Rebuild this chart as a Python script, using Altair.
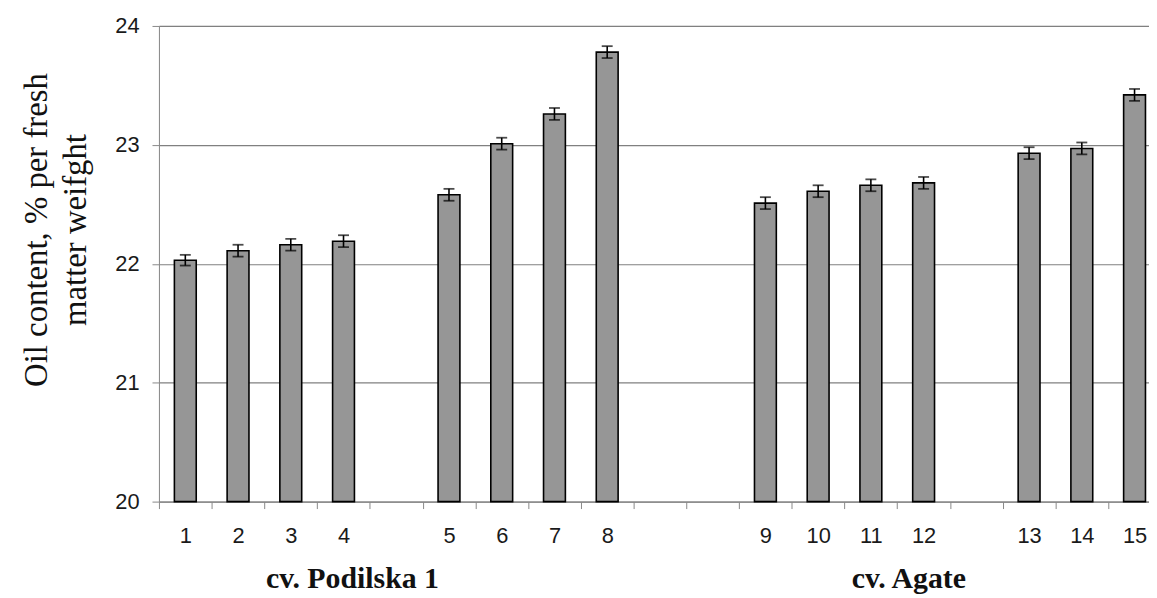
import altair as alt
import pandas as pd

# x slots (blank slots are spacer categories between groups)
slots = ["1", "2", "3", "4", " ", "5", "6", "7", "8", "  ", "   ",
         "9", "10", "11", "12", "    ", "13", "14", "15"]
samples = ["1", "2", "3", "4", "5", "6", "7", "8",
           "9", "10", "11", "12", "13", "14", "15"]
oil = [22.03, 22.11, 22.16, 22.19, 22.58, 23.01, 23.26, 23.78,
       22.51, 22.61, 22.66, 22.68, 22.93, 22.97, 23.42]
err = [0.045, 0.05, 0.05, 0.05, 0.05, 0.05, 0.05, 0.05,
       0.05, 0.05, 0.05, 0.05, 0.05, 0.05, 0.05]
y_ticks = [20, 21, 22, 23, 24]
base_value = 20
groups = ["cv. Podilska 1", "cv. Agate"]
group_anchor = ["4", "12"]
group_band = [0.67, 0.22]
y_title = ["Oil content, % per fresh", "matter weifght"]

df = pd.DataFrame({
    "sample": samples,
    "oil": oil,
    "lo": [v - e for v, e in zip(oil, err)],
    "hi": [v + e for v, e in zip(oil, err)],
    "base": [base_value] * len(samples),
})

PLOT_W = 1009
PLOT_H = 479

xscale = alt.Scale(domain=slots, paddingInner=0, paddingOuter=0)
yscale = alt.Scale(domain=[20, 24], nice=False, zero=False)

x_axis = alt.Axis(
    title=None, labelAngle=0, labelFont="Liberation Sans", labelFontSize=22,
    labelColor="#1a1a1a", labelPadding=17, tickSize=7, tickColor="#888888",
    domainColor="#888888", tickBand="extent", grid=False,
)
y_axis = alt.Axis(
    values=y_ticks, format="d", labelFont="Liberation Sans", labelFontSize=22, labelColor="#1a1a1a",
    labelPadding=13, tickSize=7, tickColor="#888888", domainColor="#888888",
    grid=True, gridColor="#808080", gridWidth=1.2,
    title=y_title, titleFont="Liberation Serif", titleFontSize=33,
    titleFontWeight="normal", titleColor="#111111", titleLineHeight=39,
    titleAngle=270, titleAlign="center", titleBaseline="alphabetic",
    titleX=-113, titleY=205,
)

bars = alt.Chart(df).mark_bar(width=22, fill="#969696", stroke="#000000", strokeWidth=1.6).encode(
    x=alt.X("sample:N", scale=xscale, axis=x_axis, sort=slots),
    y=alt.Y("oil:Q", scale=yscale, axis=y_axis),
    y2="base:Q",
)

rules = alt.Chart(df).mark_rule(color="#000000", strokeWidth=1.6).encode(
    x=alt.X("sample:N", scale=xscale, sort=slots),
    y=alt.Y("lo:Q", scale=yscale),
    y2="hi:Q",
)
cap_lo = alt.Chart(df).mark_tick(color="#000000", size=11, thickness=1.8).encode(
    x=alt.X("sample:N", scale=xscale, sort=slots),
    y=alt.Y("lo:Q", scale=yscale),
)
cap_hi = alt.Chart(df).mark_tick(color="#000000", size=11, thickness=1.8).encode(
    x=alt.X("sample:N", scale=xscale, sort=slots),
    y=alt.Y("hi:Q", scale=yscale),
)

group_layers = []
for name, anchor, bp in zip(groups, group_anchor, group_band):
    gdf = pd.DataFrame({"label": [name], "anchor": [anchor]})
    group_layers.append(
        alt.Chart(gdf).mark_text(
            font="Liberation Serif", fontSize=30, fontWeight="bold", color="#111111",
            align="center", baseline="alphabetic",
        ).encode(
            x=alt.X("anchor:N", scale=xscale, sort=slots, bandPosition=bp),
            y=alt.value(566),
            text="label:N",
        )
    )

chart = alt.layer(bars, rules, cap_lo, cap_hi, *group_layers).properties(
    width=PLOT_W, height=PLOT_H,
    autosize=alt.AutoSizeParams(type="none"),
    padding={"left": 152, "top": 16, "right": -12, "bottom": 95},
).configure_view(stroke=None).configure(background="white")

chart.save("out.html", embed_options={"renderer": "svg", "actions": False})
